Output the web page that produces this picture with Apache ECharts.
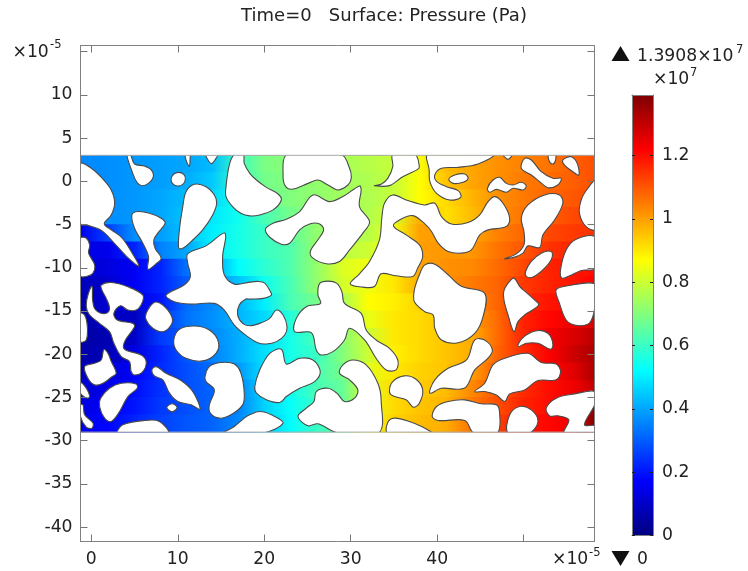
<!DOCTYPE html>
<html><head><meta charset="utf-8">
<style>html,body{margin:0;padding:0;background:#fff}#c{width:748px;height:571px}</style>
<script src="https://cdn.jsdelivr.net/npm/echarts@6/dist/echarts.min.js"></script></head>
<body><div id="c"></div>
<script>
const titleText = 'Time=0   Surface: Pressure (Pa)';
const xTicks = [0,10,20,30,40,50];
const xLabels = [0,10,20,30,40];
const yTicks = [15,10,5,0,-5,-10,-15,-20,-25,-30,-35,-40];
const yLabels = [10,5,0,-5,-10,-15,-20,-25,-30,-35,-40];
const barTicks = [0,0.2,0.4,0.6,0.8,1,1.2];
const maxPressure = 1.3908;
const jetColors = ['#00007f','#0000ff','#007fff','#00ffff','#7fff7f','#ffff00','#ff7f00','#ff0000','#7f0000'];

// Pressure (×10^7 Pa) read at these columns (×10^-5 m), one row per y
const fieldX = [-1.25,2,5,8,11,14,17,20,23,26,29,32,35,38,41,44,47,50,53,56,58.25];
const fieldY = [2,0,-2,-4,-6,-8,-10,-12,-14,-16,-18,-20,-22,-24,-26,-28];
const p02  = [.36,.37,.38,.39,.40,.43,.60,.69,.71,.73,.75,.77,.79,.86,.96,.99,1.02,1.04,1.06,1.09,1.11];
const p00  = [.36,.37,.38,.39,.41,.45,.60,.68,.70,.72,.74,.76,.79,.87,.95,.99,1.02,1.05,1.07,1.09,1.11];
const pm02 = [.36,.37,.38,.40,.43,.47,.55,.66,.70,.72,.74,.76,.79,.87,.92,.97,1.02,1.05,1.08,1.10,1.12];
const pm04 = [.36,.37,.38,.40,.44,.49,.54,.62,.68,.71,.74,.76,.82,.98,.91,.96,1.02,1.06,1.09,1.12,1.13];
const pm06 = [.15,.26,.37,.39,.44,.50,.55,.60,.65,.72,.75,.77,.85,1.00,1.00,.99,1.04,1.08,1.12,1.14,1.15];
const pm08 = [.13,.15,.22,.35,.40,.50,.55,.60,.63,.72,.78,.80,.87,1.00,1.01,1.01,1.06,1.10,1.15,1.17,1.18];
const pm10 = [.11,.13,.16,.22,.33,.39,.52,.58,.63,.72,.82,.85,.90,.99,1.02,1.03,1.07,1.12,1.17,1.19,1.20];
const pm12 = [.08,.11,.16,.22,.30,.36,.44,.54,.62,.72,.81,.85,.90,.98,1.02,1.05,1.08,1.14,1.17,1.19,1.22];
const pm14 = [.06,.12,.13,.20,.32,.36,.42,.50,.62,.68,.75,.87,.89,.93,1.00,1.03,1.08,1.16,1.19,1.21,1.24];
const pm16 = [.05,.10,.09,.24,.33,.37,.42,.47,.57,.65,.72,.84,.90,.92,.95,1.00,1.07,1.17,1.21,1.24,1.27];
const pm18 = [.05,.07,.10,.25,.30,.36,.41,.47,.55,.62,.71,.80,.90,.92,.95,.98,1.07,1.17,1.23,1.27,1.31];
const pm20 = [.06,.08,.13,.22,.29,.35,.41,.48,.55,.60,.70,.80,.89,.92,.95,.98,1.08,1.16,1.22,1.29,1.33];
const pm22 = [.08,.12,.17,.23,.28,.32,.38,.48,.55,.62,.68,.83,.90,.93,.95,1.00,1.09,1.16,1.21,1.26,1.33];
const pm24 = [.11,.15,.19,.24,.28,.31,.35,.47,.54,.62,.66,.83,.92,.94,.96,1.03,1.10,1.16,1.20,1.24,1.30];
const pm26 = [.13,.17,.20,.25,.28,.31,.35,.46,.53,.60,.65,.84,.92,.95,.97,1.05,1.11,1.17,1.20,1.23,1.38];
const pm28 = [.15,.18,.22,.26,.29,.31,.36,.44,.52,.60,.65,.85,.93,.96,.98,1.06,1.13,1.19,1.21,1.24,1.39];
const fieldRows = [p02,p00,pm02,pm04,pm06,pm08,pm10,pm12,pm14,pm16,pm18,pm20,pm22,pm24,pm26,pm28];

// Domain extent and pore outlines in ×10^-5 m (x,y pairs)
const domain = [-1.25,58.25,-29,3];
const pores = [
[-1.25,2,0,1.5,1.3,.3,2.3,-1,2.7,-2.5,2.3,-3.9,1.5,-4.9,2.3,-5.6,3.5,-6.5,4.6,-8.1,5.5,-9.8,4.2,-8.8,2.7,-7.2,1.2,-5.7,-.4,-5.1,-1.25,-4.9],
[4.1,3.1,4.5,3.1,5,2,6.15,1.76,7,1.23,7.15,.46,6.6,-.24,5.84,-.51,5.3,-.16,4.8,.9],
[10.85,3.1,11.1,2.07,11.35,1.76,11.42,2.45,11.38,3.1],
[13.27,3.1,13.65,2.23,13.96,2.07,14.3,2.46,14.6,3.1],
[9.23,.26,9.54,.84,10.11,1.03,10.69,.8,10.88,.23,10.58,-.35,9.92,-.54,9.38,-.24],
[10.11,-7.74,10.19,-5.62,10.58,-2.93,10.96,-1.2,11.92,-.35,13.27,-.62,14.23,-1.58,14.5,-2.54,14.04,-3.89,12.88,-5.62,11.54,-6.97,10.58,-7.74],
[4.69,-3.89,5.38,-3.5,6.73,-3.7,8.08,-4.27,8.54,-4.85,7.69,-6,7.23,-6.77,7.38,-7.74,8.08,-8.89,7.5,-9.54,6.54,-10.16,6.62,-8.7,5.96,-7.16,5,-5.43],
[16.54,3.1,15.96,1.88,15.58,-.62,15.58,-1.77,16.34,-2.93,17.3,-3.7,18.31,-4,19.48,-3.89,21.02,-3.31,21.98,-2.16,21.6,-1.47,20.25,-.7,19.1,.15,18.33,.92,17.69,2.07,17.58,3.1],
[11.15,-8.39,13.27,-7.47,15.46,-6,15.19,-8.7,15.38,-10.81,16.54,-11.89,18.31,-11.66,19.29,-11.58,20.06,-11.77,20.71,-12.74,20.83,-13.16,19.87,-13.54,18.33,-13.62,17.88,-13.62,17.11,-14.31,16.92,-15.46,17.5,-16.43,18.31,-16.7,19.48,-16.43,20.64,-15.85,21.41,-14.89,22.18,-15.46,22.64,-16.81,22.37,-17.77,21.41,-18.54,20.25,-18.81,19.25,-18.66,18.08,-17.96,16.54,-16.62,15.38,-14.89,14.23,-14.12,11.54,-14.2,9.61,-13.93,8.65,-13.16,10.77,-11.97,11.46,-11,11.15,-9.47],
[.08,-12.12,.15,-13.73,.38,-14.7,.96,-15.2,1.73,-15.27,2.11,-14.7,1.73,-13.54,1.23,-12.58,1.15,-12,2.31,-11.7,4.23,-12.2,5.96,-13.16,5.84,-14.12,5.19,-14.89,4.23,-14.89,3.38,-14.39,2.61,-15.27,3,-16.04,4.81,-16.43,5,-16.81,3.85,-18.54,3.85,-19.43,5.77,-20.08,6.35,-20.85,5.96,-22,5,-22.39,4.61,-22,4.42,-20.85,3.46,-20.27,2.61,-18.73,2.11,-17.39,.96,-16.43,-.19,-15.46,-.58,-14.5,-.39,-13.16],
[-1.25,-6.58,-.58,-6.58,-.19,-7.35,-.31,-8.31,.38,-9.66,.19,-10.62,-.58,-11,-1.25,-10.93],
[-1.25,-15.27,-.77,-15.47,-.46,-16.81,-.58,-18.35,-1.25,-18.54],
[-.77,-21.43,.38,-21.04,1.15,-20.66,1.46,-19.43,1.92,-19.89,2.31,-20.85,2.88,-22.2,2.31,-22.66,1.35,-23.35,.38,-23.54,-.39,-22.77],
[-1.25,-23.27,-.58,-23.93,-.19,-24.89,-.46,-25.08,-1.25,-24.5],
[-1.25,-25.85,-.96,-25.85,-.77,-27,.19,-27.96,.08,-28.54,-.58,-28.42,-1.25,-27.2],
[1.08,-25.08,2.11,-23.93,3.46,-23.35,5.19,-23.43,5.31,-23.93,4.23,-24.89,3.27,-26.62,2.31,-27.77,1.54,-27.39,.96,-26.04],
[6.35,-15.27,7.3,-14,8.27,-14.31,9.31,-15.66,9.23,-16.62,8.27,-17.39,7.11,-17,6.35,-16.04],
[9.54,-18.35,10.19,-17.12,11.92,-16.73,13.65,-17.2,14.69,-18.54,14.42,-19.89,12.88,-20.77,10.96,-20.46,9.81,-19.5],
[7,-21.81,7.5,-21.43,8.65,-22.2,10.38,-23.04,11.73,-24.31,12.58,-26.35,11.54,-25.85,10,-25.46,9.04,-24.5,8.27,-22.96,7.3,-22.5],
[8.73,-26.16,9.35,-25.73,9.92,-26.16,9.35,-26.66],
[13.15,-22.58,13.65,-21.43,15,-20.96,16.54,-21.12,17.31,-22.2,17.69,-24.5,17.5,-25.85,16.15,-27,14.81,-27.39,13.77,-26.81,13.65,-25.85,14.23,-24.12,13.27,-23.16],
[3.08,-29.1,3.65,-28.16,6.15,-27.66,7.88,-27.77,8.85,-29.1],
[15.38,-29.1,16.54,-28.35,17.69,-27.39,18.31,-27,19.48,-26.62,20.83,-27,22.18,-27.96,19.87,-29.1],
[18.91,-23.73,19.48,-21.81,20.64,-19.89,21.98,-19.43,22.56,-21.12,24.1,-20.46,25.64,-20.66,26.48,-22,25.83,-23.16,24.1,-23.93,22.56,-24.89,21.79,-25.58,20.25,-25.27,19.1,-24.5],
[28.52,-29.1,26.21,-28.04,25.06,-28.27,23.9,-27.2,24.87,-26.23,25.75,-25.46,26.02,-24.31,27.37,-23.93,28.4,-24.5,29.29,-25.46,30.45,-25.08,30.83,-24.12,29.87,-22.96,28.71,-22.2,29.1,-21.23,30.25,-20.66,31.79,-21.23,33.14,-23.35,33.52,-25.27,33.25,-29.1],
[44.23,-29.1,43.2,-27.66,40.12,-27.66,39.43,-27.2,39.93,-26.04,41.27,-25.46,43.2,-25.27,45.12,-25.73,46.85,-25.85,47.23,-26.81,46.96,-29.1],
[34.29,-29.1,34.29,-27.89,35.06,-27.39,36.79,-27.77,38.33,-28.42,39.29,-29.1],
[34.48,-24.31,34.87,-23.16,36.21,-22.5,37.56,-22.89,38.33,-24.12,37.94,-25.66,37.25,-26.12,36.41,-25.27,34.87,-24.81],
[23.52,-17.39,23.71,-15.85,24.87,-14.5,26.52,-14.12,26.21,-13.16,26.41,-11.81,27.37,-11.54,28.41,-11.81,28.98,-12.77,29.29,-14.12,31.21,-15.27,31.79,-17.2,32.94,-18.35,34.48,-19.31,35.45,-20.66,35.25,-21.81,34.1,-21.81,32.94,-20.46,31.6,-18.35,29.87,-17,29.29,-18.35,27.95,-19.7,26.6,-20.08,26.02,-19.5,25.45,-17.5],
[20.14,-5.54,21.02,-4.85,22.56,-4.39,24.1,-3.5,25.64,-1.58,27.56,-2.35,29.1,-1.77,31.02,-.54,31.21,-1,31.02,-2.93,32.18,-4.66,31.41,-6,29.87,-7.93,28.71,-9.27,27.18,-9.54,25.64,-8.89,25.33,-8.12,26.21,-6.77,26.87,-5.62,26.41,-4.93,25.25,-4.93,24.1,-5.62,22.94,-7.16,21.98,-7.27,20.64,-6.47],
[22.68,3.1,22.18,.53,22.56,-.7,23.33,-.89,25.06,-.24,26.21,.15,27.37,-.43,28.52,-1,29.68,-.43,30.06,.34,29.87,1.5,28.9,3.1],
[34.87,3.1,34.87,1.69,34.29,.34,33.52,-.35,32.75,-.5,34.48,-.5,36.02,.53,37.75,1.38,37.94,1.69,37.45,3.1],
[38.96,3.1,39.08,1.3,39.16,-.04,39.93,-1.39,41.46,-2.16,42.73,-1.85,42.43,-1.08,41.08,-.62,39.93,0,39.73,.73,40.5,1.5,42.43,1.61,44.73,2,46.54,3.1],
[29.95,-11.85,31.02,-10.7,32.18,-9.27,33.33,-6.77,33.6,-4.27,33.91,-2.54,34.87,-1.58,36.41,-2.16,38.52,-2.74,39.73,-2.54,40.5,-4.08,41.66,-4.93,43.58,-4.77,44.93,-3.89,45.89,-2.35,46.66,-1.77,47.62,-2.54,48.39,-4.27,48,-5.24,45.89,-5.62,44.93,-6.2,43.96,-7.93,42.81,-8.31,41.27,-8.12,40.12,-7.16,39.35,-5.81,38.58,-4.93,37.18,-3.97,35.64,-4.47,34.95,-5.16,36.41,-6.2,37.95,-7.35,38.33,-8.7,37.75,-10.04,37.18,-11,35.25,-10.93,33.52,-10.7,32.75,-12.16,31.41,-12.24],
[37.37,-12.54,37.95,-10.81,38.58,-9.66,39.73,-9.58,41.27,-10.81,42.81,-12.15,45.5,-12.96,45.31,-15.66,44.35,-17.58,42.43,-18.66,40.5,-18.35,39.73,-17,39.54,-15.46,38.58,-15.08,37.37,-13.93],
[47.62,3.1,48.2,2.53,48.66,3.1],
[52.9,3.1,53,2.26,53.4,2,53.7,2.46,53.65,3.1],
[41.35,.23,42.04,.73,43.2,.84,43.58,.34,43,-.12,41.85,-.24],
[45.81,-.81,46.46,.15,47.23,.46,48,-.24,48.77,-.43,49.73,-.12,50.31,-.54,49.93,-1,48.77,-.81,48,-1.27,46.85,-.93,46.08,-1.27],
[49.73,1.5,50.12,2.65,50.89,2.46,52.04,1.11,53.39,.34,54.35,.34,53.96,-.43,52.81,-.74,51.85,-.04,50.89,.73],
[54.54,2.46,55.5,2.84,56.2,2.07,56.39,.73,55.7,1.11,54.73,1.88],
[49.73,-4.27,50.5,-2.74,52.43,-1.58,54.15,-1.58,54.54,-2.54,53.58,-4.47,52.23,-6.2,51.85,-7.66,50.5,-7.47,49.93,-8.31,48.96,-8.77,47.81,-8.97,49.16,-8.39,50.04,-7.35,50.04,-5.81],
[58.3,.03,57.43,-.81,56.66,-2.16,56.46,-3.7,57.23,-5.24,58.3,-5.54],
[50.23,-10.43,50.89,-9.27,52.04,-8.31,53.2,-8.12,53.27,-8.89,52.43,-10.04,51.08,-11.08,50.31,-11],
[54.27,-10.24,54.93,-7.93,56.08,-6.7,58.3,-6.47,58.3,-10.04,56.66,-10.31,55.31,-10.93,54.43,-11.2],
[47.7,-12.74,48.2,-11.77,48.89,-11.2,49.54,-12.16,50,-12.58,51.08,-13.54,51.73,-14.31,50.12,-15.46,49.35,-16.23,48.89,-17.39,48.2,-15.46,47.73,-13.73],
[53.77,-12.54,55.12,-12.08,58.3,-11.89,58.3,-13.93,58,-15.66,57.43,-16.54,55.89,-16.62,54.93,-16.04,54.15,-14.12],
[49.35,-19.12,49.73,-18.27,50.89,-17.46,52.04,-17.27,53,-17.77,53.39,-18.93,53.12,-19.43,51.66,-18.73,50.31,-18.73],
[44.35,-24.31,45.5,-23.35,46.46,-21.23,47.81,-20.46,50.5,-19.89,52.04,-20.96,53.77,-21.12,54.27,-22,53.77,-22.96,51.66,-23.04,50.12,-24.12,48.39,-24.58,47.81,-25.46,46.85,-24.7,45.5,-24.31],
[39.16,-24.5,39.73,-22.96,41.27,-21.62,43.39,-20.66,44.35,-18.35,45.5,-18.35,46.39,-19.5,45.89,-20.46,44.35,-21.81,43.39,-23.73,42.43,-24.04,40.5,-23.93],
[48.2,-29.1,48.39,-27,49.54,-26.04,50.89,-26.43,51.66,-27.77,50.69,-29.1],
[54.73,-29.1,55.23,-27.58,53.96,-27.12,53,-27.12,52.62,-26.23,53.77,-25.08,55.89,-24.58,58.3,-24.31,58.3,-25.66,57.04,-28.16,58.3,-28.27,58.3,-29.1]
];

function jet(v){
  const t = Math.max(0,Math.min(1,v/maxPressure))*(jetColors.length-1);
  const i = Math.min(jetColors.length-2,Math.floor(t));
  const hex = c=>[1,3,5].map(k=>parseInt(c.substr(k,2),16));
  const a = hex(jetColors[i]), b = hex(jetColors[i+1]), f = t-i;
  return 'rgb('+a.map((q,k)=>Math.round(q+(b[k]-q)*f)).join(',')+')';
}

const FONT = 'DejaVu Sans';
const TXT = '#222';
const LABEL_SIZE = 17.2;
const grayLine = {show:true,onZero:false,lineStyle:{color:'#808080',width:1}};
function mainAxis(pos,ticks,labels,extra,pad){
  return Object.assign({
    type:'value',position:pos,z:10,splitLine:{show:false},
    axisLine:grayLine,
    axisTick:{show:true,inside:true,length:7,lineStyle:{color:'#777'},customValues:ticks},
    axisLabel:labels?{show:true,customValues:labels,fontFamily:FONT,fontSize:LABEL_SIZE,color:TXT,margin:8,padding:[pad,0,0,0]}:{show:false}
  },extra);
}
const xR = {min:-1.25,max:58.2,gridIndex:0};
const yR = {min:-41.65,max:15.7,gridIndex:0};
const cbX = {type:'value',min:0,max:1,gridIndex:1,z:10,axisLine:grayLine,axisTick:{show:false},axisLabel:{show:false},splitLine:{show:false}};
const cbY = {min:0,max:maxPressure,gridIndex:1};
function cbAxis(pos,labelled){
  return Object.assign({type:'value',position:pos,z:10,splitLine:{show:false},axisLine:grayLine,
    axisTick:{show:true,inside:true,length:3,lineStyle:{color:'#222'},customValues:barTicks},
    axisLabel:labelled?{show:true,customValues:barTicks,fontFamily:FONT,fontSize:LABEL_SIZE,color:TXT,margin:9,padding:[6,0,0,0]}:{show:false}
  },cbY);
}
const sideText=(text,x,y,size,extra)=>({type:'text',x,y,z:20,style:Object.assign({text,fontFamily:FONT,fontSize:size,fill:TXT,verticalAlign:'middle'},extra||{})});

const chart = echarts.init(document.getElementById('c'),null,{renderer:'canvas'});
chart.setOption({
  animation:false,
  backgroundColor:'#fff',
  title:{text:titleText,left:379,top:2,textAlign:'center',textStyle:{fontFamily:FONT,fontSize:18,fontWeight:'normal',color:TXT}},
  grid:[{left:80.5,top:45.5,width:514,height:496,containLabel:false},{left:632,top:95,width:21,height:440.5}],
  xAxis:[mainAxis('bottom',xTicks,xLabels,xR,2),mainAxis('top',xTicks,null,xR),
    Object.assign({position:'bottom'},cbX),Object.assign({position:'top'},cbX)],
  yAxis:[mainAxis('left',yTicks,yLabels,yR,4),mainAxis('right',yTicks,null,yR),cbAxis('left',false),cbAxis('right',true)],
  graphic:[
    sideText('×10',12.5,53,LABEL_SIZE),sideText('-5',50,45,11.5),
    sideText('×10',552,560,LABEL_SIZE),sideText('-5',589,553,11.5),
    sideText('1.3908×10',637,57,LABEL_SIZE),sideText('7',736,50,11.5),
    sideText('×10',653,80,LABEL_SIZE),sideText('7',690,73,11.5),
    sideText('0',637,560,LABEL_SIZE),
    {type:'polygon',z:20,shape:{points:[[620.5,46],[629.5,61],[611.5,61]]},style:{fill:'#111'}},
    {type:'polygon',z:20,shape:{points:[[611.5,551],[629.5,551],[620.5,566]]},style:{fill:'#111'}}
  ],
  series:[
    {type:'custom',xAxisIndex:0,yAxisIndex:0,clip:true,z:2,
     data:fieldY.map((y,i)=>[y,i]),encode:{x:[],y:0},silent:true,
     renderItem(params,api){
       const y=api.value(0), row=fieldRows[api.value(1)];
       const a=api.coord([fieldX[0],y+1]), b=api.coord([fieldX[fieldX.length-1],y-1]);
       const span=fieldX[fieldX.length-1]-fieldX[0];
       return {type:'rect',shape:{x:a[0],y:a[1]-0.4,width:b[0]-a[0],height:b[1]-a[1]+0.8},
         style:{fill:new echarts.graphic.LinearGradient(0,0,1,0,row.map((v,k)=>({offset:(fieldX[k]-fieldX[0])/span,color:jet(v)})))}};
     }},
    {type:'custom',xAxisIndex:0,yAxisIndex:0,clip:true,z:3,silent:true,
     data:pores.map((p,i)=>[p[0],p[1],i]),
     renderItem(params,api){
       const p=pores[api.value(2)], pts=[];
       for(let k=0;k<p.length;k+=2) pts.push(api.coord([p[k],p[k+1]]));
       const tl=api.coord([domain[0],domain[3]]), br=api.coord([domain[1],domain[2]]);
       return {type:'polygon',shape:{points:pts,smooth:0.35},
         clipPath:{type:'rect',shape:{x:tl[0],y:tl[1],width:br[0]-tl[0],height:br[1]-tl[1]}},
         style:{fill:'#fff',stroke:'#4a4a4a',lineWidth:1.1}};
     }},
    {type:'custom',xAxisIndex:0,yAxisIndex:0,clip:true,z:4,silent:true,
     data:[[domain[0],domain[3]]],
     renderItem(params,api){
       const tl=api.coord([domain[0],domain[3]]), br=api.coord([domain[1],domain[2]]);
       return {type:'rect',shape:{x:tl[0],y:tl[1],width:br[0]-tl[0],height:br[1]-tl[1]},style:{fill:'none',stroke:'#aaa',lineWidth:1}};
     }},
    {type:'custom',xAxisIndex:2,yAxisIndex:2,z:2,silent:true,
     data:[[0,maxPressure]],
     renderItem(params,api){
       const a=api.coord([0,maxPressure]), b=api.coord([1,0]);
       return {type:'rect',shape:{x:a[0],y:a[1],width:b[0]-a[0],height:b[1]-a[1]},
         style:{fill:new echarts.graphic.LinearGradient(0,1,0,0,jetColors.map((c,k)=>({offset:k/(jetColors.length-1),color:c})))}};
     }}
  ]
});
</script></body></html>
